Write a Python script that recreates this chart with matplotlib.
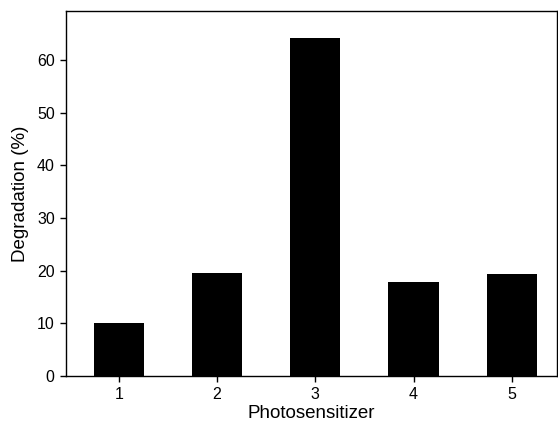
import matplotlib
matplotlib.use("Agg")
import matplotlib.pyplot as plt

plt.rcParams['font.family'] = ['Liberation Sans', 'DejaVu Sans']

# 数据
photosensitizer = [1, 2, 3, 4, 5]
degradation = [10.1, 19.6, 64.2, 17.9, 19.4]

fig = plt.figure(figsize=(5.58, 4.30), dpi=100)
ax = fig.add_axes([0.118, 0.126, 0.880, 0.848])

ax.bar(photosensitizer, degradation, width=0.51, color='black')

ax.set_xlim(0.46, 5.46)
ax.set_ylim(0, 69.3)
ax.set_xticks(photosensitizer)
ax.set_yticks([0, 10, 20, 30, 40, 50, 60])
ax.tick_params(direction='out', length=4, width=1, labelsize=11.5, pad=4)
ax.tick_params(axis='x', top=False)
ax.tick_params(axis='y', right=False)
for s in ax.spines.values():
    s.set_linewidth(1)

ax.set_xlabel("Photosensitizer", fontsize=13.5, labelpad=2)
ax.set_ylabel("Degradation (%)", fontsize=13.5, labelpad=6)

fig.savefig("out.png", dpi=100)
